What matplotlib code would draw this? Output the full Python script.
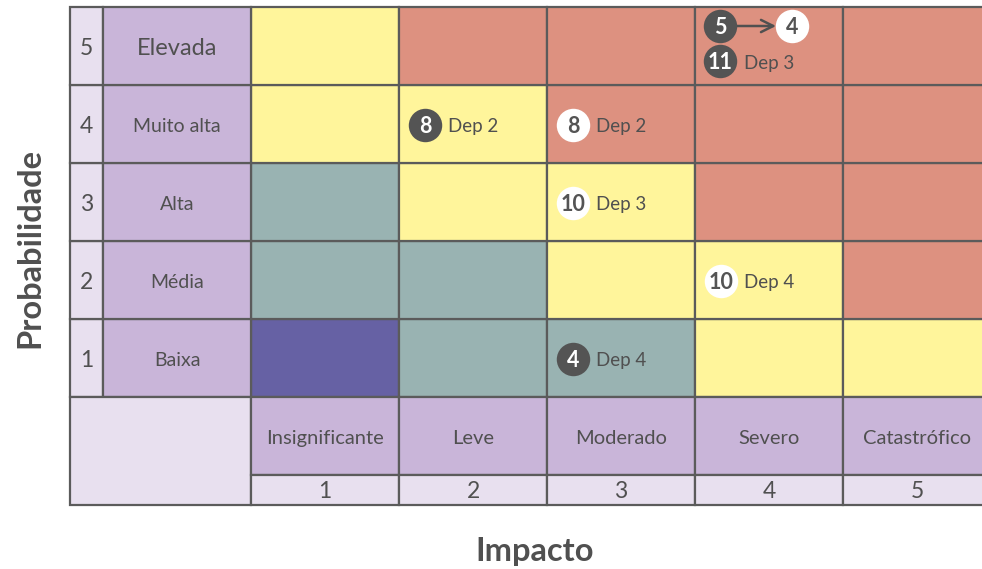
import matplotlib.pyplot as plt
from matplotlib.patches import Rectangle

plt.rcParams['font.family'] = ['Lato', 'DejaVu Sans']

# data
prob_levels = [1, 2, 3, 4, 5]
prob_labels = ["Baixa", "Média", "Alta", "Muito alta", "Elevada"]
impact_levels = [1, 2, 3, 4, 5]
impact_labels = ["Insignificante", "Leve", "Moderado", "Severo", "Catastrófico"]

# risk zone per cell, rows = probability 1..5, cols = impact 1..5
zones = [
    ["B", "T", "T", "Y", "Y"],
    ["T", "T", "Y", "Y", "R"],
    ["T", "Y", "Y", "R", "R"],
    ["Y", "Y", "R", "R", "R"],
    ["Y", "R", "R", "R", "R"],
]
zone_colors = {"B": "#6661a4", "T": "#99b3b2", "Y": "#fff59b", "R": "#dd9180"}

# risks: (impact, probability, score, label, dark?)
risk_impact = [2, 3, 3, 4, 3]
risk_prob = [4, 4, 3, 2, 1]
risk_score = [8, 8, 10, 10, 4]
risk_label = ["Dep 2", "Dep 2", "Dep 3", "Dep 4", "Dep 4"]
risk_dark = [True, False, False, False, True]

LINE = "#5b5b5b"
TEXT = "#505050"
LILAC = "#c9b5d9"
LIGHT = "#e8e0ef"

fig = plt.figure(figsize=(9.82, 5.69), dpi=100)
ax = fig.add_axes([0, 0, 1, 1])
ax.set_xlim((0 - 251) / 148, (982 - 251) / 148)
ax.set_ylim((397 - 569) / 78, (397 - 0) / 78)
ax.axis("off")

lw = 1.6
num_w = 33 / 148
num_h = 30 / 78
off = 2.5 / 78  # text sits a touch below the cell centre


def cell(x, y, w, h, color):
    ax.add_patch(Rectangle((x, y), w, h, facecolor=color, edgecolor=LINE, linewidth=lw))


# matrix
for r, p in enumerate(prob_levels):
    for c, i in enumerate(impact_levels):
        cell(i - 1, p - 1, 1, 1, zone_colors[zones[r][c]])

# probability labels
for p, lab in zip(prob_levels, prob_labels):
    cell(-1 - num_w, p - 1, num_w, 1, LIGHT)
    cell(-1, p - 1, 1, 1, LILAC)
    fs = 17 if p == 5 else 14
    ax.text(-1 - num_w / 2, p - 0.5 - off, str(p), ha="center", va="center", fontsize=16.5, color=TEXT)
    ax.text(-0.5, p - 0.5 - off, lab, ha="center", va="center", fontsize=fs, color=TEXT)

# impact labels
cell(-1 - num_w, -1 - num_h, 1 + num_w, 1 + num_h, LIGHT)
for i, lab in zip(impact_levels, impact_labels):
    cell(i - 1, -1, 1, 1, LILAC)
    cell(i - 1, -1 - num_h, 1, num_h, LIGHT)
    ax.text(i - 0.5, -0.5 - off, lab, ha="center", va="center", fontsize=14.5, color=TEXT)
    ax.text(i - 0.5, -1 - num_h / 2 - off / 2, str(i), ha="center", va="center", fontsize=16.5, color=TEXT)


def bubble(x, y, n, dark):
    fc = "#545454" if dark else "white"
    tc = "white" if dark else "#545454"
    ax.scatter([x], [y], s=580, color=fc, zorder=5, linewidths=0)
    ax.text(x, y - 0.025, str(n), ha="center", va="center", fontsize=15.5, fontweight="bold",
            color=tc, zorder=6)


dx = 26 / 148
for i, p, s, lab, d in zip(risk_impact, risk_prob, risk_score, risk_label, risk_dark):
    bubble(i - 1 + dx, p - 0.5 - 1 / 78, s, d)
    ax.text(i - 1 + dx + 23 / 148, p - 0.5 - off, lab, ha="left", va="center", fontsize=13.5, color=TEXT)

# impact 4 / probability 5: score moving from 5 to 4, plus Dep 3 with 11
y_top = 5 - 19 / 78
y_bot = 5 - 54 / 78
bubble(3 + 25 / 148, y_top, 5, True)
bubble(3 + 97 / 148, y_top, 4, False)
ax.annotate("", xy=(3 + 81 / 148, y_top), xytext=(3 + 41 / 148, y_top),
            arrowprops=dict(arrowstyle="->", color=TEXT, lw=1.8, mutation_scale=22,
                            shrinkA=0, shrinkB=0), zorder=4)
bubble(3 + 25 / 148, y_bot, 11, True)
ax.text(3 + 49 / 148, y_bot - off, "Dep 3", ha="left", va="center", fontsize=13.5, color=TEXT)

# axis titles
fig.text(30 / 982, 1 - 248 / 569, "Probabilidade", rotation=90, ha="center", va="center",
         fontsize=23.5, fontweight="bold", color=TEXT)
fig.text(535 / 982, 1 - 551 / 569, "Impacto", ha="center", va="center",
         fontsize=23.5, fontweight="bold", color=TEXT)

fig.savefig("out.png", dpi=100)
